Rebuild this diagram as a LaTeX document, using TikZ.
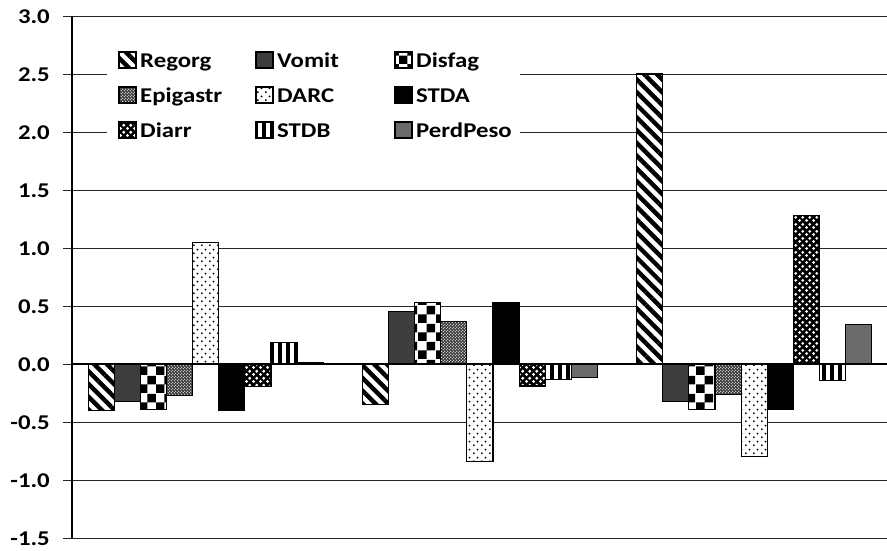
\documentclass[tikz,border=0pt]{standalone}
\usepackage{fontspec}
\setmainfont{Carlito}[FakeStretch=1.18]
\usetikzlibrary{patterns,patterns.meta}
\pgfdeclarepatternformonly{bigcheck}{\pgfqpoint{0pt}{0pt}}{\pgfqpoint{17.4pt}{17.4pt}}{\pgfqpoint{17.4pt}{17.4pt}}{%
  \pgfpathrectangle{\pgfqpoint{0pt}{0pt}}{\pgfqpoint{8.7pt}{8.7pt}}%
  \pgfpathrectangle{\pgfqpoint{8.7pt}{8.7pt}}{\pgfqpoint{8.7pt}{8.7pt}}%
  \pgfusepath{fill}}
\pgfdeclarepatternformonly{finedots}{\pgfqpoint{0pt}{0pt}}{\pgfqpoint{3.4pt}{3.4pt}}{\pgfqpoint{3.4pt}{3.4pt}}{%
  \pgfpathcircle{\pgfqpoint{0.85pt}{0.85pt}}{0.75pt}%
  \pgfpathcircle{\pgfqpoint{2.55pt}{2.55pt}}{0.75pt}%
  \pgfusepath{fill}}
\pgfdeclarepatternformonly{sparsedots}{\pgfqpoint{0pt}{0pt}}{\pgfqpoint{8pt}{8pt}}{\pgfqpoint{8pt}{8pt}}{%
  \pgfpathcircle{\pgfqpoint{2pt}{2pt}}{1.1pt}%
  \pgfpathcircle{\pgfqpoint{6pt}{6pt}}{1.1pt}%
  \pgfusepath{fill}}
\pgfdeclarepatternformonly{bigdots}{\pgfqpoint{0pt}{0pt}}{\pgfqpoint{7pt}{7pt}}{\pgfqpoint{7pt}{7pt}}{%
  \pgfpathcircle{\pgfqpoint{1.75pt}{1.75pt}}{1.7pt}%
  \pgfpathcircle{\pgfqpoint{5.25pt}{5.25pt}}{1.7pt}%
  \pgfusepath{fill}}
\tikzset{
  sRegorg/.style={pattern={Lines[angle=-45,distance=9pt,line width=4.4pt]}},
  sVomit/.style={fill=black!76},
  sDisfag/.style={pattern=bigcheck},
  sEpigastr/.style={pattern=finedots, pattern color=white},
  sDARC/.style={pattern=sparsedots},
  sSTDA/.style={fill=black},
  sDiarr/.style={pattern=bigdots, pattern color=white},
  sSTDB/.style={pattern={Lines[angle=90,distance=8pt,line width=3.5pt]}},
  sPerdPeso/.style={fill=black!58},
  grid line/.style={draw=black!85, line width=0.9pt},
  ylab/.style={anchor=base east, inner sep=0pt, font=\bfseries\fontsize{21}{24}\selectfont},
  leglab/.style={anchor=base west, inner sep=0pt, font=\bfseries\fontsize{21}{24}\selectfont},
  barborder/.style={draw=black, line width=1.1pt}
}
% #1 left x, #2 value, #3 style, #4 background colour
\newcommand\cbar[4]{%
  \fill[#4] (#1,364) rectangle ({#1+26.1},{364-116*(#2)});
  \fill[#3] (#1,364) rectangle ({#1+26.1},{364-116*(#2)});
  \draw[barborder] (#1,364) rectangle ({#1+26.1},{364-116*(#2)});}
% x, ycenter, style, label, background colour
\newcommand\legicon[5]{%
  \fill[#5] (#1,#2-8) rectangle (#1+17,#2+8);
  \fill[#3] (#1,#2-8) rectangle (#1+17,#2+8);
  \draw[barborder] (#1,#2-8) rectangle (#1+17,#2+8);
  \node[leglab] (lab#4) at (#1+21,#2+7.5) {#4};}
\begin{document}
\begin{tikzpicture}[x=1pt,y=-1pt]
\useasboundingbox (0,0) rectangle (887,550);
\fill[white] (0,0) rectangle (887,550);
% gridlines and ticks
\foreach \v/\t in {3.0/3.0,2.5/2.5,2.0/2.0,1.5/1.5,1.0/1.0,0.5/0.5,0.0/0.0,-0.5/-0.5,-1.0/-1.0,-1.5/-1.5}{
  \draw[grid line] (63,{364-116*\v}) -- (887,{364-116*\v});
  \node[ylab] at (50,{364-116*\v+7}) {\t};
}
% legend background
\fill[white] (107,30) rectangle (520,162);
% axis
\draw[black, line width=1.2pt] (72,16) -- (72,538);
% bars
\foreach \g/\vals in {0/{-0.40,-0.325,-0.39,-0.27,1.046,-0.40,-0.195,0.187,0.012},
                      1/{-0.35,0.45,0.53,0.37,-0.84,0.53,-0.19,-0.13,-0.12},
                      2/{2.5,-0.325,-0.39,-0.26,-0.80,-0.39,1.28,-0.14,0.34}}{
  \foreach \val [count=\i from 0] in \vals {
    \pgfmathsetmacro{\xl}{88.3+274.2*\g+26.1*\i}
    \ifcase\i
      \cbar{\xl}{\val}{sRegorg}{white}\or
      \cbar{\xl}{\val}{sVomit}{white}\or
      \cbar{\xl}{\val}{sDisfag}{white}\or
      \cbar{\xl}{\val}{sEpigastr}{black!80}\or
      \cbar{\xl}{\val}{sDARC}{white}\or
      \cbar{\xl}{\val}{sSTDA}{white}\or
      \cbar{\xl}{\val}{sDiarr}{black}\or
      \cbar{\xl}{\val}{sSTDB}{white}\or
      \cbar{\xl}{\val}{sPerdPeso}{white}\fi
  }
}
\draw[black, line width=1.1pt] (72,364) -- (887,364);
% legend
\legicon{119}{60}{sRegorg}{Regorg}{white}
\legicon{256}{60}{sVomit}{Vomit}{white}
\legicon{395}{60}{sDisfag}{Disfag}{white}
\legicon{119}{95}{sEpigastr}{Epigastr}{black!80}
\legicon{256}{95}{sDARC}{DARC}{white}
\legicon{395}{95}{sSTDA}{STDA}{white}
\legicon{119}{130}{sDiarr}{Diarr}{black}
\legicon{256}{130}{sSTDB}{STDB}{white}
\legicon{395}{130}{sPerdPeso}{PerdPeso}{white}
\end{tikzpicture}
\end{document}
